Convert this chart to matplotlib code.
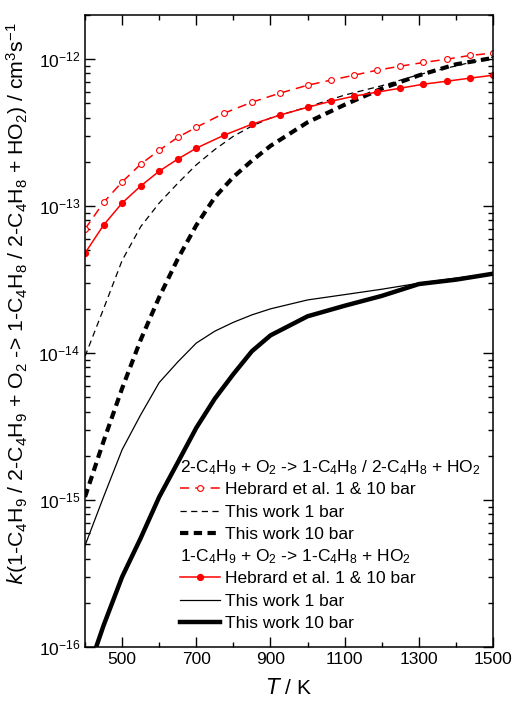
import numpy as np
import matplotlib
matplotlib.use("Agg")
import matplotlib.pyplot as plt
from matplotlib.lines import Line2D

plt.rcParams['font.family'] = ['Liberation Sans', 'DejaVu Sans']
plt.rcParams['mathtext.default'] = 'regular'

# Hebrard et al. (same grid for both radicals)
T_heb = [400, 450, 500, 550, 600, 650, 700, 775, 850, 925, 1000,
         1062.5, 1125, 1187.5, 1250, 1312.5, 1375, 1437.5, 1500]
k_heb_2 = [6.98e-14, 1.06e-13, 1.46e-13, 1.93e-13, 2.40e-13, 2.94e-13, 3.44e-13,
           4.29e-13, 5.10e-13, 5.87e-13, 6.65e-13, 7.20e-13, 7.78e-13, 8.42e-13,
           8.96e-13, 9.50e-13, 1.00e-12, 1.06e-12, 1.10e-12]
k_heb_1 = [4.79e-14, 7.43e-14, 1.05e-13, 1.37e-13, 1.73e-13, 2.09e-13, 2.48e-13,
           3.04e-13, 3.61e-13, 4.16e-13, 4.71e-13, 5.17e-13, 5.60e-13, 5.97e-13,
           6.35e-13, 6.76e-13, 7.08e-13, 7.43e-13, 7.78e-13]

# this work
T_tw = [400, 450, 500, 550, 600, 650, 700, 750, 800, 850, 900, 1000,
        1100, 1200, 1300, 1400, 1500]
k_2_1bar = [9.5e-15, 2.0e-14, 4.27e-14, 7.24e-14, 1.05e-13, 1.43e-13, 1.91e-13,
            2.43e-13, 2.99e-13, 3.51e-13, 3.98e-13, 4.73e-13, 5.7e-13, 6.6e-13,
            7.85e-13, 9.0e-13, 1.035e-12]
k_2_10bar = [1.05e-15, 2.51e-15, 5.75e-15, 1.23e-14, 2.40e-14, 4.37e-14, 7.41e-14,
             1.15e-13, 1.58e-13, 2.04e-13, 2.57e-13, 3.72e-13, 4.90e-13, 6.31e-13,
             7.76e-13, 9.23e-13, 1.02e-12]
k_1_1bar = [4.9e-16, 1.05e-15, 2.2e-15, 3.8e-15, 6.3e-15, 8.7e-15, 1.17e-14,
            1.41e-14, 1.62e-14, 1.82e-14, 2.0e-14, 2.3e-14, 2.5e-14, 2.72e-14,
            2.99e-14, 3.24e-14, 3.47e-14]
k_1_10bar = [6.0e-17, 1.4e-16, 3.0e-16, 5.5e-16, 1.05e-15, 1.8e-15, 3.1e-15,
             4.9e-15, 7.2e-15, 1.03e-14, 1.32e-14, 1.78e-14, 2.1e-14, 2.45e-14,
             2.95e-14, 3.16e-14, 3.47e-14]

fig = plt.figure(figsize=(5.14, 7.06), dpi=100)
ax = fig.add_axes([0.1654, 0.0836, 0.7938, 0.8952])

red = '#ff0000'
heb_open = dict(color=red, lw=1.1, ls=(0, (6, 4)), marker='o', ms=4.2,
                mfc='white', mec=red, mew=0.8)
heb_full = dict(color=red, lw=1.1, marker='o', ms=4.2, mfc=red, mec=red)
tw_dash_thin = dict(color='k', lw=0.9, ls=(0, (5, 3.5)))
tw_dash_thick = dict(color='k', lw=3.0, ls=(0, (2, 1.3)))
tw_thin = dict(color='k', lw=0.9)
tw_thick = dict(color='k', lw=3.2)

ax.plot(T_heb, k_heb_2, **heb_open)
ax.plot(T_tw, k_2_1bar, **tw_dash_thin)
ax.plot(T_tw, k_2_10bar, **tw_dash_thick)
ax.plot(T_heb, k_heb_1, **heb_full)
ax.plot(T_tw, k_1_1bar, **tw_thin)
ax.plot(T_tw, k_1_10bar, **tw_thick)

ax.set_yscale('log')
ax.set_xlim(400, 1500)
ax.set_ylim(1e-16, 2e-12)
ax.set_xticks([500, 700, 900, 1100, 1300, 1500])
ax.set_xticks(np.arange(400, 1501, 100), minor=True)
ax.tick_params(which='both', direction='in', top=True, right=True, labelsize=12.5, width=1)
ax.tick_params(which='major', length=7)
ax.tick_params(which='minor', length=3.5)
for sp in ax.spines.values():
    sp.set_linewidth(1.1)

ax.set_xlabel('$\\mathit{T}$ / K', fontsize=15, labelpad=8)
ax.set_ylabel('$\\mathit{k}$(1-C$_4$H$_9$ / 2-C$_4$H$_9$ + O$_2$ -> 1-C$_4$H$_8$ / '
              '2-C$_4$H$_8$ + HO$_2$) / cm$^3$s$^{-1}$', fontsize=15.3)
ax.yaxis.set_label_coords(-0.135, 0.543)

# legend with two group headers
blank = Line2D([], [], color='none')
handles = [blank, Line2D([], [], **heb_open), Line2D([], [], **tw_dash_thin),
           Line2D([], [], **tw_dash_thick),
           blank, Line2D([], [], **heb_full), Line2D([], [], **tw_thin),
           Line2D([], [], **tw_thick)]
labels = ['', 'Hebrard et al. 1 & 10 bar', 'This work 1 bar', 'This work 10 bar',
          '', 'Hebrard et al. 1 & 10 bar', 'This work 1 bar', 'This work 10 bar']
leg = ax.legend(handles, labels, loc='upper left', bbox_to_anchor=(0.233, 0.296),
                frameon=False, fontsize=12.5, handlelength=2.3, handletextpad=0.3,
                labelspacing=0.41, borderpad=0, borderaxespad=0)

fig.canvas.draw()
inv = ax.transAxes.inverted()
leg_texts = leg.get_texts()
headers = {0: '2-C$_4$H$_9$ + O$_2$ -> 1-C$_4$H$_8$ / 2-C$_4$H$_8$ + HO$_2$',
           4: '1-C$_4$H$_9$ + O$_2$ -> 1-C$_4$H$_8$ + HO$_2$'}
for idx, txt in headers.items():
    below = leg_texts[idx + 1].get_window_extent()
    after = leg_texts[idx + 2].get_window_extent()
    step = (below.y0 + below.y1) / 2 - (after.y0 + after.y1) / 2
    y = inv.transform((0, (below.y0 + below.y1) / 2 + step))[1]
    ax.text(0.233, y, txt, transform=ax.transAxes, fontsize=12.5, va='center', ha='left')

fig.savefig('out.png', dpi=100)
